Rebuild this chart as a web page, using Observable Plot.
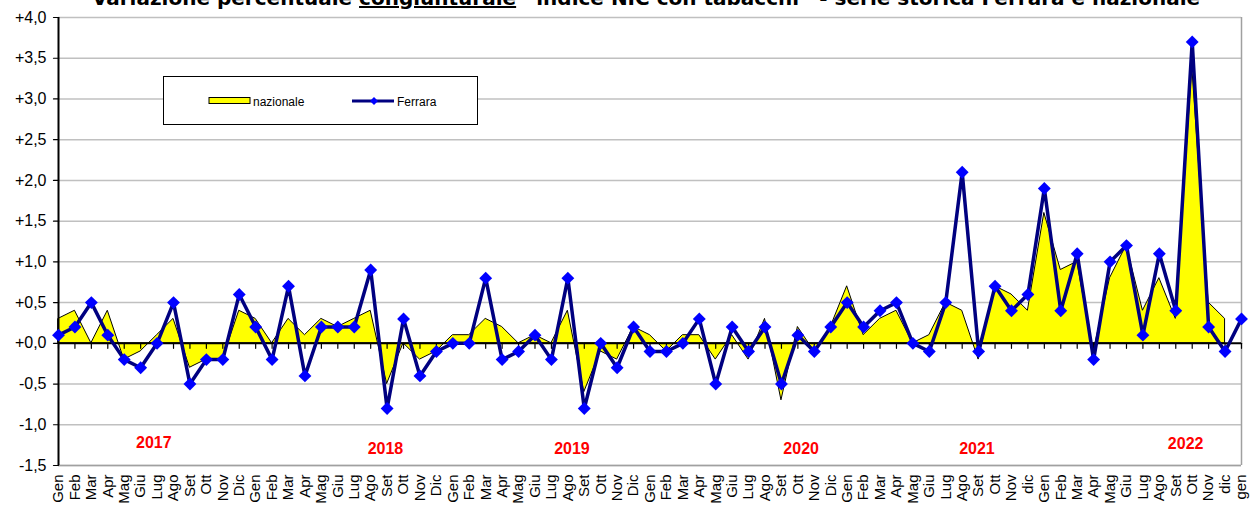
<!DOCTYPE html>
<html>
<head>
<meta charset="utf-8">
<script src="https://cdn.jsdelivr.net/npm/d3@7"></script>
<script src="https://cdn.jsdelivr.net/npm/@observablehq/plot@0.6"></script>
<style>
  html, body { margin: 0; padding: 0; background: #ffffff; }
  #wrap { position: relative; width: 1254px; height: 508px; overflow: hidden; background: #ffffff; }
  #chart { position: absolute; left: 0; top: 0; }
  #title { position: absolute; left: 0; top: 0; }
  #legend { position: absolute; left: 163px; top: 76px; width: 313px; height: 47px; border: 1.5px solid #000; background: #fff; box-sizing: content-box; }
</style>
</head>
<body>
<div id="wrap">
  <div id="chart"></div>
  <svg id="title" width="1254" height="20"></svg>
  <div id="legend"></div>
</div>
<script>
// ---- data ----
const monthLabels = [
  "Gen","Feb","Mar","Apr","Mag","Giu","Lug","Ago","Set","Ott","Nov","Dic",
  "Gen","Feb","Mar","Apr","Mag","Giu","Lug","Ago","Set","Ott","Nov","Dic",
  "Gen","Feb","Mar","Apr","Mag","Giu","Lug","Ago","Set","Ott","Nov","Dic",
  "Gen","Feb","Mar","Apr","Mag","Giu","Lug","Ago","Set","Ott","Nov","Dic",
  "Gen","Feb","Mar","Apr","Mag","Giu","Lug","Ago","Set","Ott","Nov","dic",
  "Gen","Feb","Mar","Apr","Mag","Giu","Lug","Ago","Set","Ott","Nov","dic",
  "gen"
];
const ferrara = [
  0.1, 0.2, 0.5, 0.1, -0.2, -0.3, 0.0, 0.5, -0.5, -0.2, -0.2, 0.6,
  0.2, -0.2, 0.7, -0.4, 0.2, 0.2, 0.2, 0.9, -0.8, 0.3, -0.4, -0.1,
  0.0, 0.0, 0.8, -0.2, -0.1, 0.1, -0.2, 0.8, -0.8, 0.0, -0.3, 0.2,
  -0.1, -0.1, 0.0, 0.3, -0.5, 0.2, -0.1, 0.2, -0.5, 0.1, -0.1, 0.2,
  0.5, 0.2, 0.4, 0.5, 0.0, -0.1, 0.5, 2.1, -0.1, 0.7, 0.4, 0.6,
  1.9, 0.4, 1.1, -0.2, 1.0, 1.2, 0.1, 1.1, 0.4, 3.7, 0.2, -0.1,
  0.3
];
const nazionale = [
  0.3, 0.4, 0.0, 0.4, -0.2, -0.1, 0.1, 0.3, -0.3, -0.2, -0.2, 0.4,
  0.3, 0.0, 0.3, 0.1, 0.3, 0.2, 0.3, 0.4, -0.5, 0.0, -0.2, -0.1,
  0.1, 0.1, 0.3, 0.2, 0.0, 0.1, 0.0, 0.4, -0.6, -0.1, -0.2, 0.2,
  0.1, -0.1, 0.1, 0.1, -0.2, 0.1, -0.2, 0.3, -0.7, 0.2, -0.1, 0.2,
  0.7, 0.1, 0.3, 0.4, 0.0, 0.1, 0.5, 0.4, -0.2, 0.7, 0.6, 0.4,
  1.6, 0.9, 1.0, -0.1, 0.8, 1.2, 0.4, 0.8, 0.3, 3.4, 0.5, 0.3
];
const yTicks = [-1.5, -1.0, -0.5, 0.0, 0.5, 1.0, 1.5, 2.0, 2.5, 3.0, 3.5, 4.0];
const yearLabels = ["2017", "2018", "2019", "2020", "2021", "2022"];
const yearLabelMonth = [5.8, 19.9, 31.25, 45.2, 55.9, 68.6];
const yearLabelValue = [-1.22, -1.29, -1.29, -1.30, -1.29, -1.24];

// ---- tables built from the arrays ----
const monthRows = monthLabels.map((m, i) => ({i, m}));
const ferRows = ferrara.map((v, i) => ({i, v}));
const nazRows = nazionale.map((v, i) => ({i, v}));
const yearRows = yearLabels.map((t, k) => ({t, i: yearLabelMonth[k], v: yearLabelValue[k]}));

const fmt = d => (d >= 0 ? "+" : "-") + Math.abs(d).toFixed(1).replace(".", ",");
const tickShape = {draw(ctx, l) { ctx.moveTo(0, 0); ctx.lineTo(0, -l); }};
const lastIdx = monthLabels.length - 1;

const chart = Plot.plot({
  width: 1254,
  height: 508,
  marginLeft: 58,
  marginRight: 13,
  marginTop: 17,
  marginBottom: 43,
  style: {fontFamily: "'Liberation Sans', Arial, sans-serif", fontSize: "15px", background: "#ffffff", overflow: "visible", color: "#000"},
  x: {type: "linear", domain: [0, lastIdx], axis: null},
  y: {domain: [-1.5, 4.0], axis: null},
  marks: [
    Plot.ruleY(yTicks.filter(d => d !== 0), {y: d => d, stroke: "#c0c0c0", strokeWidth: 1.5}),
    Plot.ruleX([lastIdx], {stroke: "#a0a0a0", strokeWidth: 1.5}),
    Plot.ruleY([-1.5], {stroke: "#a0a0a0", strokeWidth: 1.5}),
    Plot.areaY(nazRows, {x: "i", y: "v", fill: "#ffff00", stroke: "#000000", strokeWidth: 1}),
    Plot.ruleY([0], {stroke: "#000000", strokeWidth: 2}),
    Plot.vector(monthRows, {x: "i", y: 0, length: 5, rotate: 180, anchor: "start", shape: tickShape, stroke: "#000", strokeWidth: 1.2}),
    Plot.ruleX([0], {stroke: "#000000", strokeWidth: 2}),
    Plot.vector(yTicks, {x: 0, y: d => d, length: 5, rotate: -90, anchor: "start", shape: tickShape, stroke: "#000", strokeWidth: 1.2}),
    Plot.text(yTicks, {x: 0, y: d => d, text: fmt, textAnchor: "end", dx: -12, fontSize: 16, fill: "#000"}),
    Plot.text(monthRows, {x: "i", y: -1.5, text: "m", rotate: -90, textAnchor: "end", lineAnchor: "middle", dy: 9, fontSize: 15, fill: "#000"}),
    Plot.text(yearRows, {x: "i", y: "v", text: "t", fill: "#ff0000", fontWeight: "bold", fontSize: 16, lineAnchor: "middle"}),
    Plot.line(ferRows, {x: "i", y: "v", stroke: "#000080", strokeWidth: 3.5}),
    Plot.dot(ferRows, {x: "i", y: "v", symbol: "diamond2", fill: "#0000ff", stroke: "none", r: 5.8})
  ]
});
document.getElementById("chart").appendChild(chart);

// ---- title (top edge clipped as in the reference) ----
const tsvg = d3.select("#title");
const tt = tsvg.append("text")
  .attr("x", 646).attr("y", 5)
  .attr("text-anchor", "middle")
  .attr("font-family", "'DejaVu Sans', Verdana, sans-serif")
  .attr("font-weight", "bold")
  .attr("font-size", 20)
  .attr("fill", "#000");
tt.append("tspan").text("Variazione percentuale ");
tt.append("tspan").attr("text-decoration", "underline").text("congiunturale");
tt.append("tspan").text(" \u201Cindice NIC con tabacchi\u201D - serie storica Ferrara e nazionale");

// ---- legend ----
const lg = d3.select("#legend").append("svg").attr("width", 313).attr("height", 47)
  .style("font-family", "'Liberation Sans', Arial, sans-serif").style("font-size", "12px");
lg.append("rect").attr("x", 45).attr("y", 20.5).attr("width", 41).attr("height", 6)
  .attr("fill", "#ffff00").attr("stroke", "#000").attr("stroke-width", 1);
lg.append("text").attr("x", 89).attr("y", 28.5).text("nazionale");
lg.append("line").attr("x1", 188).attr("x2", 230).attr("y1", 24).attr("y2", 24)
  .attr("stroke", "#000080").attr("stroke-width", 3);
lg.append("path").attr("d", d3.symbol(d3.symbolDiamond2, 40)()).attr("transform", "translate(210,24)").attr("fill", "#0000ff");
lg.append("text").attr("x", 233).attr("y", 28.5).text("Ferrara");
</script>
</body>
</html>
